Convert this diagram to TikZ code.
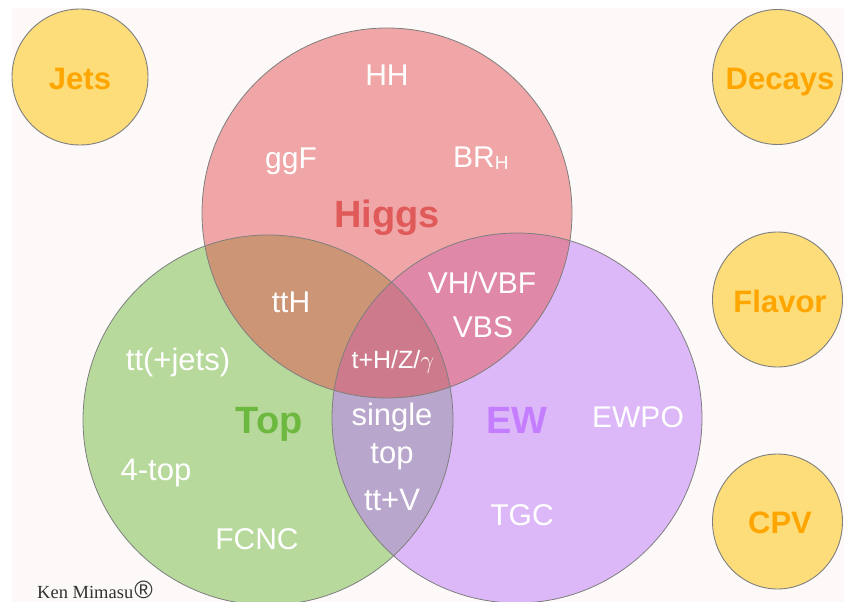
\documentclass[tikz,border=0pt]{standalone}
\usepackage{fontspec}
\setmainfont{Liberation Sans}
\newfontfamily\kenfont{Liberation Serif}
\definecolor{bgc}{HTML}{FCF9F8}
\definecolor{hfill}{HTML}{F0A6A7}
\definecolor{tfill}{HTML}{B7D99C}
\definecolor{efill}{HTML}{DDB8F8}
\definecolor{htfill}{HTML}{CC9676}
\definecolor{hefill}{HTML}{E088A8}
\definecolor{tefill}{HTML}{B9A6CC}
\definecolor{allfill}{HTML}{CD7A8C}
\definecolor{outl}{HTML}{7F7F7F}
\definecolor{yel}{HTML}{FDDC7A}
\definecolor{orng}{HTML}{FFA500}
\definecolor{hred}{HTML}{E05A5A}
\definecolor{tgreen}{HTML}{6DB93F}
\definecolor{epurp}{HTML}{C47DFF}
\definecolor{kencol}{HTML}{333333}
\begin{document}
\begin{tikzpicture}[x=1pt,y=-1pt,
  lbl/.style={text=white, font=\fontsize{30}{30}\selectfont, anchor=base, inner sep=0pt},
  lblb/.style={lbl, font=\fontsize{31}{31}\selectfont},
  big/.style={font=\bfseries\fontsize{38}{38}\selectfont, anchor=base, inner sep=0pt},
  side/.style={text=orng, font=\bfseries\fontsize{31}{31}\selectfont, anchor=base, inner sep=0pt},
  smallc/.style={fill=yel, draw=outl, line width=0.9pt},
  ring/.style={draw=outl, line width=0.8pt}]
\useasboundingbox (0,0) rectangle (844,602);
\clip (0,0) rectangle (844,602);
\fill[white] (0,0) rectangle (844,602);
\fill[bgc] (12,8) rectangle (844,602);
% centres
\coordinate (hc) at (387,213);
\coordinate (tc) at (268,420);
\coordinate (ec) at (517,418);
% base fills
\fill[tfill] (tc) circle[radius=185pt];
\fill[efill] (ec) circle[radius=185pt];
\fill[hfill] (hc) circle[radius=185pt];
\begin{scope}
  \clip (tc) circle[radius=185pt];
  \fill[tefill] (ec) circle[radius=185pt];
\end{scope}
\begin{scope}
  \clip (hc) circle[radius=185pt];
  \fill[htfill] (tc) circle[radius=185pt];
\end{scope}
\begin{scope}
  \clip (hc) circle[radius=185pt];
  \fill[hefill] (ec) circle[radius=185pt];
\end{scope}
\begin{scope}
  \clip (hc) circle[radius=185pt];
  \clip (tc) circle[radius=185pt];
  \fill[allfill] (ec) circle[radius=185pt];
\end{scope}
\draw[ring] (tc) circle[radius=185pt];
\draw[ring] (ec) circle[radius=185pt];
\draw[ring] (hc) circle[radius=185pt];
% side circles
\draw[smallc] (80,77) circle[radius=68pt];
\draw[smallc] (777.5,77) ellipse[x radius=65pt, y radius=67.5pt];
\draw[smallc] (777.5,299.5) ellipse[x radius=65pt, y radius=67.5pt];
\draw[smallc] (777.5,521.5) ellipse[x radius=65pt, y radius=67.5pt];
\node[side] (jets) at (80,90) {Jets};
\node[side] (decays) at (780,90) {Decays};
\node[side] (flavor) at (780,312) {Flavor};
\node[side] (cpv) at (780,533) {CPV};
% Higgs
\node[lbl] (hh) at (387,86) {HH};
\node[lbl] (ggf) at (291,168) {ggF};
\node[lbl, anchor=base west] (brh) at (453,167) {BR\raisebox{-2pt}{\fontsize{19}{19}\selectfont H}};
\node[big, text=hred] (higgs) at (387,227) {Higgs};
% overlaps
\node[lbl] (tth) at (291,312) {ttH};
\node[lbl] (vh) at (482,293) {VH/VBF};
\node[lbl] (vbs) at (483,337) {VBS};
\node[lbl, font=\fontsize{25}{25}\selectfont] (thz) at (393,368) {t+H/Z/$\gamma$};
\node[lblb] (single) at (392,425) {single};
\node[lblb] (stop) at (392,463) {top};
\node[lblb] (ttv) at (392,510) {tt+V};
% Top
\node[lbl, font=\fontsize{31}{31}\selectfont] (ttj) at (178,370) {tt(+jets)};
\node[big, text=tgreen] (top) at (269,433) {Top};
\node[lbl, font=\fontsize{31}{31}\selectfont] (fourtop) at (156,480) {4-top};
\node[lbl] (fcnc) at (257,549) {FCNC};
% EW
\node[big, text=epurp] (ew) at (517,433) {EW};
\node[lbl] (ewpo) at (638,427) {EWPO};
\node[lbl] (tgc) at (522,525) {TGC};
% signature
\node[anchor=base west, inner sep=0pt, text=kencol, font=\kenfont\fontsize{18.5}{18.5}\selectfont] (ken) at (37,598) {Ken Mimasu\hspace{1pt}{\fontsize{25}{25}\selectfont\rmfamily ®}};
\end{tikzpicture}
\end{document}
